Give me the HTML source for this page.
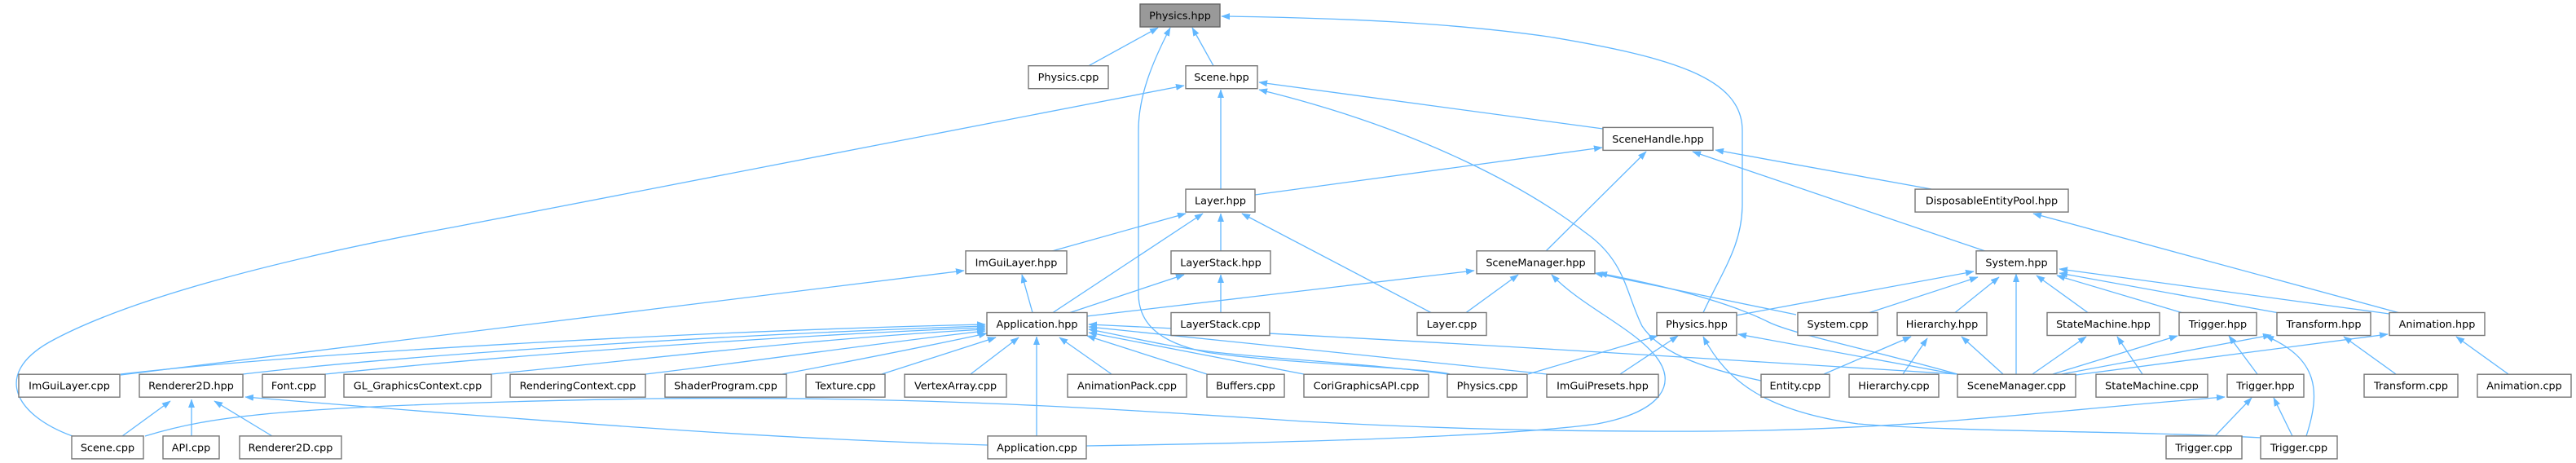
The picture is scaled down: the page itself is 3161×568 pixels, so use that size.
<!DOCTYPE html>
<html><head><meta charset="utf-8">
<style>
html,body{margin:0;padding:0;background:#fff;}
svg{display:block;}
.n{fill:#fff;stroke:#777;stroke-width:1.4;}
.r{fill:#999;stroke:#666;stroke-width:1.4;}
.t{font-family:"DejaVu Sans","Liberation Sans",sans-serif;font-size:12.8px;fill:#000;text-anchor:middle;}
.e{fill:none;stroke:#63b8ff;stroke-width:1.3;marker-end:url(#a);}
</style></head>
<body>
<svg width="3161" height="568" viewBox="0 0 3161 568" xmlns="http://www.w3.org/2000/svg">
<defs>
<marker id="a" markerWidth="11" markerHeight="9" refX="10" refY="4.5" orient="auto" markerUnits="userSpaceOnUse">
<path d="M0,0.8 L10,4.5 L0,8.2 z" fill="#63b8ff" stroke="#63b8ff" stroke-width="0.5"/>
</marker>
</defs>
<rect width="3161" height="568" fill="#fff"/>

<!-- edges -->
<g>
<path class="e" d="M1336,80.7 L1421,34"/>
<path class="e" d="M1489,80.7 L1463,34"/>
<path class="e" d="M1779,459 C1760,452 1560,445 1480,432 C1420,420 1397,395 1397,360 L1397,160 C1397,120 1412,80 1436,34"/>
<path class="e" d="M2090,383.5 C2115,330 2138,300 2138,250 L2138,160 C2138,95 2050,70 1900,45 C1780,28 1650,22 1499,20"/>
<path class="e" d="M89,535 C20,510 -10,460 60,420 C150,370 330,320 560,278 L1453,105"/>
<path class="e" d="M1967,158 L1545,101"/>
<path class="e" d="M2161,467 C2080,450 2035,430 2015,400 C1995,360 1995,320 1945,285 C1880,235 1750,160 1545,110"/>
<path class="e" d="M1498,232 L1498,110"/>
<path class="e" d="M1540,239 L1966,181"/>
<path class="e" d="M1897,308 L2020,186"/>
<path class="e" d="M2370,232 L2105,184"/>
<path class="e" d="M2436,308 L2077,186"/>
<path class="e" d="M2943,383.5 L2495,262"/>
<path class="e" d="M1291,308 L1455,262"/>
<path class="e" d="M1292,383.5 L1476,262"/>
<path class="e" d="M1498,308 L1498,262"/>
<path class="e" d="M1756,383.5 L1524,262"/>
<path class="e" d="M1267,383.5 L1254,337"/>
<path class="e" d="M148,460 L1183,332"/>
<path class="e" d="M1313,383.5 L1453,337"/>
<path class="e" d="M1498,383.5 L1498,337"/>
<path class="e" d="M1333,388 L1809,332"/>
<path class="e" d="M1799,383.5 L1863,337"/>
<path class="e" d="M1333,547 C1600,543 1850,535 1960,520 C2040,505 2060,470 2030,435 C2000,400 1940,375 1904,337"/>
<path class="e" d="M2204,386 L1957,335"/>
<path class="e" d="M2402,459 C2300,430 2200,410 2170,395 C2120,370 2040,350 1962,335"/>
<path class="e" d="M2130,387 L2422,333"/>
<path class="e" d="M2294,383.5 L2427,340"/>
<path class="e" d="M2399,383.5 L2453,340"/>
<path class="e" d="M2474,459 L2474,336"/>
<path class="e" d="M2562,383.5 L2499,338"/>
<path class="e" d="M2677,383.5 L2524,338"/>
<path class="e" d="M2794,383.5 L2527,335"/>
<path class="e" d="M2932,385 L2527,330"/>
<path class="e" d="M2238,459 L2345,413"/>
<path class="e" d="M2335,459 L2365,415"/>
<path class="e" d="M2458,459 L2407,413"/>
<path class="e" d="M1875,459 L2034,412"/>
<path class="e" d="M1988,459 L2059,412"/>
<path class="e" d="M2776,537 C2600,528 2400,530 2280,520 C2170,505 2120,470 2090,413"/>
<path class="e" d="M2400,459 L2133,410"/>
<path class="e" d="M2629,459 L2598,413"/>
<path class="e" d="M2494,459 L2560,413"/>
<path class="e" d="M2519,459 L2672,412"/>
<path class="e" d="M2530,459 L2787,411"/>
<path class="e" d="M2547,460 L2930,410"/>
<path class="e" d="M2770,459 L2735,412"/>
<path class="e" d="M2830,535 C2848,480 2845,440 2780,412"/>
<path class="e" d="M2940,459 L2876,413"/>
<path class="e" d="M3078,459 L3014,413"/>
<path class="e" d="M2718,535 L2763,488"/>
<path class="e" d="M2813,535 L2790,488"/>
<path class="e" d="M178,535 C260,510 350,497 800,489 C1100,486 1300,497 1600,517 C1750,525 1900,530 2100,529 C2350,527 2500,505 2730,487"/>
<path class="e" d="M1212,546 C1000,540 800,528 301,487"/>
<path class="e" d="M150,535 L209,492"/>
<path class="e" d="M235,535 L235,490"/>
<path class="e" d="M334,535 L263,492"/>
<path class="e" d="M1272,535 L1272,413"/>
<path class="e" d="M148,459 C400,430 900,405 1209,398"/>
<path class="e" d="M298,459 C500,435 900,410 1209,400"/>
<path class="e" d="M399,459 C600,438 950,412 1209,402"/>
<path class="e" d="M603,459 C800,440 1000,415 1209,404"/>
<path class="e" d="M792,459 C950,440 1100,418 1209,406"/>
<path class="e" d="M960,459 C1050,442 1150,422 1211,409"/>
<path class="e" d="M1082,459 L1222,414"/>
<path class="e" d="M1191,459 L1250,414"/>
<path class="e" d="M1364,459 L1300,414"/>
<path class="e" d="M1481,459 L1334,412"/>
<path class="e" d="M1600,459 L1336,408"/>
<path class="e" d="M1776,459 C1700,448 1560,440 1490,432 C1430,425 1380,412 1336,404"/>
<path class="e" d="M1898,459 L1336,401"/>
<path class="e" d="M2402,459 C2100,440 1700,415 1336,398"/>
</g>

<!-- nodes -->
<g>
<rect class="r" x="1399" y="5" width="98" height="28"/><text class="t" x="1448" y="23.5">Physics.hpp</text>

<rect class="n" x="1262" y="80.7" width="98" height="28"/><text class="t" x="1311" y="99.2">Physics.cpp</text>
<rect class="n" x="1455" y="80.7" width="88" height="28"/><text class="t" x="1499" y="99.2">Scene.hpp</text>

<rect class="n" x="1967" y="156.4" width="135" height="28"/><text class="t" x="2034.5" y="174.9">SceneHandle.hpp</text>

<rect class="n" x="1455" y="232.1" width="85" height="28"/><text class="t" x="1497.5" y="250.6">Layer.hpp</text>
<rect class="n" x="2350" y="232.1" width="188" height="28"/><text class="t" x="2444" y="250.6">DisposableEntityPool.hpp</text>

<rect class="n" x="1185" y="307.8" width="124" height="28"/><text class="t" x="1247" y="326.3">ImGuiLayer.hpp</text>
<rect class="n" x="1437" y="307.8" width="122" height="28"/><text class="t" x="1498" y="326.3">LayerStack.hpp</text>
<rect class="n" x="1812" y="307.8" width="145" height="28"/><text class="t" x="1884.5" y="326.3">SceneManager.hpp</text>
<rect class="n" x="2425" y="307.8" width="99" height="28"/><text class="t" x="2474.5" y="326.3">System.hpp</text>

<rect class="n" x="1211" y="383.5" width="123" height="28"/><text class="t" x="1272.5" y="402">Application.hpp</text>
<rect class="n" x="1437" y="383.5" width="121" height="28"/><text class="t" x="1497.5" y="402">LayerStack.cpp</text>
<rect class="n" x="1739" y="383.5" width="85" height="28"/><text class="t" x="1781.5" y="402">Layer.cpp</text>
<rect class="n" x="2033" y="383.5" width="98" height="28"/><text class="t" x="2082" y="402">Physics.hpp</text>
<rect class="n" x="2206" y="383.5" width="98" height="28"/><text class="t" x="2255" y="402">System.cpp</text>
<rect class="n" x="2328" y="383.5" width="110" height="28"/><text class="t" x="2383" y="402">Hierarchy.hpp</text>
<rect class="n" x="2512" y="383.5" width="138" height="28"/><text class="t" x="2581" y="402">StateMachine.hpp</text>
<rect class="n" x="2674" y="383.5" width="95" height="28"/><text class="t" x="2721.5" y="402">Trigger.hpp</text>
<rect class="n" x="2794" y="383.5" width="115" height="28"/><text class="t" x="2851.5" y="402">Transform.hpp</text>
<rect class="n" x="2932" y="383.5" width="117" height="28"/><text class="t" x="2990.5" y="402">Animation.hpp</text>

<rect class="n" x="23" y="459.2" width="124" height="28"/><text class="t" x="85" y="477.7">ImGuiLayer.cpp</text>
<rect class="n" x="171" y="459.2" width="127" height="28"/><text class="t" x="234.5" y="477.7">Renderer2D.hpp</text>
<rect class="n" x="322" y="459.2" width="77" height="28"/><text class="t" x="360.5" y="477.7">Font.cpp</text>
<rect class="n" x="422" y="459.2" width="181" height="28"/><text class="t" x="512.5" y="477.7">GL_GraphicsContext.cpp</text>
<rect class="n" x="626" y="459.2" width="166" height="28"/><text class="t" x="709" y="477.7">RenderingContext.cpp</text>
<rect class="n" x="816" y="459.2" width="149" height="28"/><text class="t" x="890.5" y="477.7">ShaderProgram.cpp</text>
<rect class="n" x="989" y="459.2" width="97" height="28"/><text class="t" x="1037.5" y="477.7">Texture.cpp</text>
<rect class="n" x="1110" y="459.2" width="125" height="28"/><text class="t" x="1172.5" y="477.7">VertexArray.cpp</text>
<rect class="n" x="1310" y="459.2" width="146" height="28"/><text class="t" x="1383" y="477.7">AnimationPack.cpp</text>
<rect class="n" x="1481" y="459.2" width="95" height="28"/><text class="t" x="1528.5" y="477.7">Buffers.cpp</text>
<rect class="n" x="1600" y="459.2" width="153" height="28"/><text class="t" x="1676.5" y="477.7">CoriGraphicsAPI.cpp</text>
<rect class="n" x="1776" y="459.2" width="98" height="28"/><text class="t" x="1825" y="477.7">Physics.cpp</text>
<rect class="n" x="1898" y="459.2" width="137" height="28"/><text class="t" x="1966.5" y="477.7">ImGuiPresets.hpp</text>
<rect class="n" x="2161" y="459.2" width="84" height="28"/><text class="t" x="2203" y="477.7">Entity.cpp</text>
<rect class="n" x="2269" y="459.2" width="110" height="28"/><text class="t" x="2324" y="477.7">Hierarchy.cpp</text>
<rect class="n" x="2402" y="459.2" width="145" height="28"/><text class="t" x="2474.5" y="477.7">SceneManager.cpp</text>
<rect class="n" x="2572" y="459.2" width="137" height="28"/><text class="t" x="2640.5" y="477.7">StateMachine.cpp</text>
<rect class="n" x="2733" y="459.2" width="94" height="28"/><text class="t" x="2780" y="477.7">Trigger.hpp</text>
<rect class="n" x="2901" y="459.2" width="115" height="28"/><text class="t" x="2958.5" y="477.7">Transform.cpp</text>
<rect class="n" x="3040" y="459.2" width="115" height="28"/><text class="t" x="3097.5" y="477.7">Animation.cpp</text>

<rect class="n" x="88" y="534.9" width="88" height="28"/><text class="t" x="132" y="553.4">Scene.cpp</text>
<rect class="n" x="200" y="534.9" width="69" height="28"/><text class="t" x="234.5" y="553.4">API.cpp</text>
<rect class="n" x="294" y="534.9" width="125" height="28"/><text class="t" x="356.5" y="553.4">Renderer2D.cpp</text>
<rect class="n" x="1212" y="534.9" width="121" height="28"/><text class="t" x="1272.5" y="553.4">Application.cpp</text>
<rect class="n" x="2658" y="534.9" width="93" height="28"/><text class="t" x="2704.5" y="553.4">Trigger.cpp</text>
<rect class="n" x="2774" y="534.9" width="94" height="28"/><text class="t" x="2821" y="553.4">Trigger.cpp</text>
</g>
</svg>
</body></html>
